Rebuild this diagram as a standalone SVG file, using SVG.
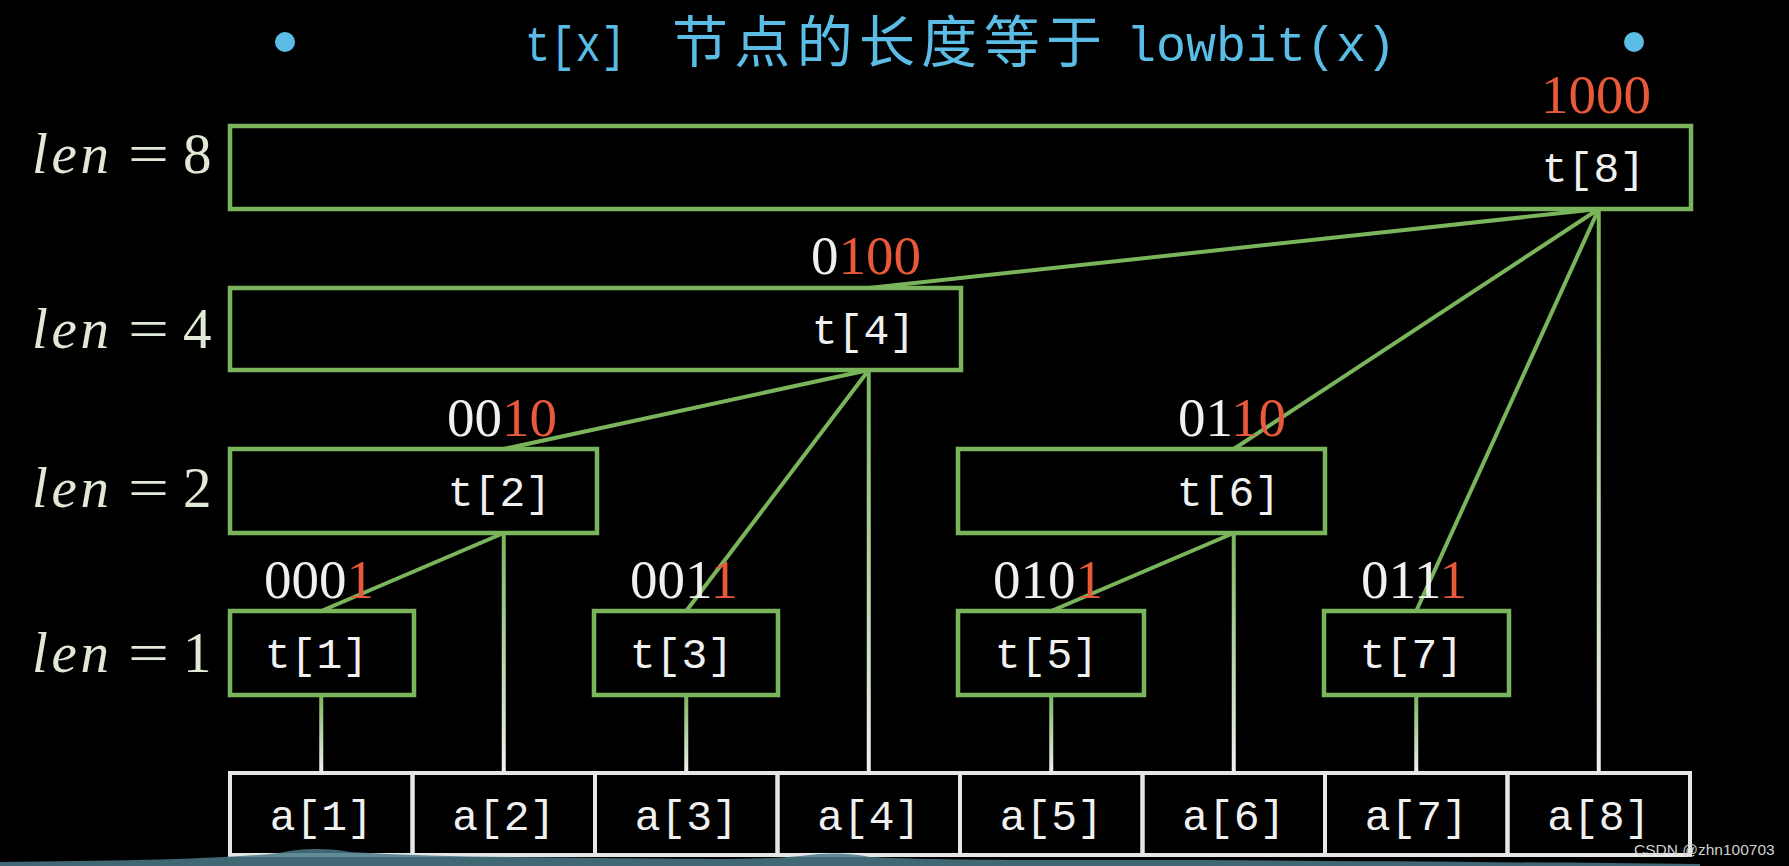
<svg xmlns="http://www.w3.org/2000/svg" width="1789" height="866" viewBox="0 0 1789 866">
<defs>
<linearGradient id="vgrad" x1="0" y1="0" x2="0" y2="1">
<stop offset="0" stop-color="#7ab55c"/>
<stop offset="1" stop-color="#f2f2f2"/>
</linearGradient>
<style>
.box{fill:none;stroke:#7ab55c;stroke-width:4.5}
.cell{fill:none;stroke:#e6e6e6;stroke-width:4}
.conn{stroke:#7ab55c;stroke-width:4;fill:none}
.mono{font-family:"Liberation Mono","DejaVu Sans Mono",monospace;font-size:43px;fill:#f0f0f0}
.bin{font-family:"Liberation Serif","DejaVu Serif",serif;font-size:55px;fill:#f0f0f0;text-anchor:end}
.red{fill:#e8583a}
.lab{font-family:"Liberation Serif","DejaVu Serif",serif;font-size:57px;fill:#dfe9d5}
.ttl{fill:#5bbde6}
</style>
</defs>
<rect x="0" y="0" width="1789" height="866" fill="#000"/>

<g id="title">
<circle cx="285" cy="42" r="10" fill="#5bbde6"/>
<circle cx="1634" cy="42" r="10" fill="#5bbde6"/>
<text x="525" y="61" class="ttl" font-family="Liberation Mono, DejaVu Sans Mono, monospace" font-size="50" textLength="101" lengthAdjust="spacingAndGlyphs">t[x]</text>
<text x="672" y="62" class="ttl" font-family="Noto Sans CJK SC, sans-serif" font-size="56" textLength="430" lengthAdjust="spacing">节点的长度等于</text>
<text x="1126" y="61" class="ttl" font-family="Liberation Mono, DejaVu Sans Mono, monospace" font-size="50" textLength="270" lengthAdjust="spacingAndGlyphs">lowbit(x)</text>
</g>

<g id="labels">
<text class="lab" x="32" y="173" font-style="italic" textLength="77" lengthAdjust="spacing">len</text><text class="lab" x="128" y="173" textLength="41" lengthAdjust="spacingAndGlyphs">=</text><text class="lab" x="183" y="173">8</text>
<text class="lab" x="32" y="348" font-style="italic" textLength="77" lengthAdjust="spacing">len</text><text class="lab" x="128" y="348" textLength="41" lengthAdjust="spacingAndGlyphs">=</text><text class="lab" x="183" y="348">4</text>
<text class="lab" x="32" y="507" font-style="italic" textLength="77" lengthAdjust="spacing">len</text><text class="lab" x="128" y="507" textLength="41" lengthAdjust="spacingAndGlyphs">=</text><text class="lab" x="183" y="507">2</text>
<text class="lab" x="32" y="672" font-style="italic" textLength="77" lengthAdjust="spacing">len</text><text class="lab" x="128" y="672" textLength="41" lengthAdjust="spacingAndGlyphs">=</text><text class="lab" x="183" y="672">1</text>
</g>

<g id="connectors">
<rect x="319.25" y="695" width="4" height="78" fill="url(#vgrad)"/>
<rect x="501.75" y="533" width="4" height="240" fill="url(#vgrad)"/>
<rect x="684.25" y="695" width="4" height="78" fill="url(#vgrad)"/>
<rect x="866.75" y="370" width="4" height="403" fill="url(#vgrad)"/>
<rect x="1049.25" y="695" width="4" height="78" fill="url(#vgrad)"/>
<rect x="1231.75" y="533" width="4" height="240" fill="url(#vgrad)"/>
<rect x="1414.25" y="695" width="4" height="78" fill="url(#vgrad)"/>
<rect x="1596.75" y="209" width="4" height="564" fill="url(#vgrad)"/>
<line class="conn" x1="321.25" y1="611" x2="503.75" y2="533"/>
<line class="conn" x1="503.75" y1="449" x2="868.75" y2="370"/>
<line class="conn" x1="686.25" y1="611" x2="868.75" y2="370"/>
<line class="conn" x1="868.75" y1="288" x2="1598.75" y2="209"/>
<line class="conn" x1="1051.25" y1="611" x2="1233.75" y2="533"/>
<line class="conn" x1="1233.75" y1="449" x2="1598.75" y2="209"/>
<line class="conn" x1="1416.25" y1="611" x2="1598.75" y2="209"/>
</g>

<g id="t8"><rect class="box" x="230" y="126" width="1461" height="83"/><text class="mono" x="1645" y="182" text-anchor="end">t[8]</text><text class="bin red" x="1651" y="113">1000</text></g>
<g id="t4"><rect class="box" x="230" y="288" width="731" height="82"/><text class="mono" x="915" y="344" text-anchor="end">t[4]</text><text class="bin" x="921" y="274">0<tspan class="red">100</tspan></text></g>
<g id="t2"><rect class="box" x="230" y="449" width="367" height="84"/><text class="mono" x="551" y="506" text-anchor="end">t[2]</text><text class="bin" x="557" y="436">00<tspan class="red">10</tspan></text></g>
<g id="t6"><rect class="box" x="958" y="449" width="367" height="84"/><text class="mono" x="1280" y="506" text-anchor="end">t[6]</text><text class="bin" x="1286" y="436">01<tspan class="red">10</tspan></text></g>
<g id="t1"><rect class="box" x="230" y="611" width="184" height="84"/><text class="mono" x="368" y="668" text-anchor="end">t[1]</text><text class="bin" x="374" y="598">000<tspan class="red">1</tspan></text></g>
<g id="t3"><rect class="box" x="594" y="611" width="184" height="84"/><text class="mono" x="733" y="668" text-anchor="end">t[3]</text><text class="bin" x="738" y="598">001<tspan class="red">1</tspan></text></g>
<g id="t5"><rect class="box" x="958" y="611" width="186" height="84"/><text class="mono" x="1098" y="668" text-anchor="end">t[5]</text><text class="bin" x="1103" y="598">010<tspan class="red">1</tspan></text></g>
<g id="t7"><rect class="box" x="1324" y="611" width="185" height="84"/><text class="mono" x="1463" y="668" text-anchor="end">t[7]</text><text class="bin" x="1467" y="598">011<tspan class="red">1</tspan></text></g>

<g id="a-array">
<rect class="cell" x="230" y="773" width="182.5" height="82"/><text class="mono" x="321.25" y="830" text-anchor="middle">a[1]</text>
<rect class="cell" x="412.5" y="773" width="182.5" height="82"/><text class="mono" x="503.75" y="830" text-anchor="middle">a[2]</text>
<rect class="cell" x="595" y="773" width="182.5" height="82"/><text class="mono" x="686.25" y="830" text-anchor="middle">a[3]</text>
<rect class="cell" x="777.5" y="773" width="182.5" height="82"/><text class="mono" x="868.75" y="830" text-anchor="middle">a[4]</text>
<rect class="cell" x="960" y="773" width="182.5" height="82"/><text class="mono" x="1051.25" y="830" text-anchor="middle">a[5]</text>
<rect class="cell" x="1142.5" y="773" width="182.5" height="82"/><text class="mono" x="1233.75" y="830" text-anchor="middle">a[6]</text>
<rect class="cell" x="1325" y="773" width="182.5" height="82"/><text class="mono" x="1416.25" y="830" text-anchor="middle">a[7]</text>
<rect class="cell" x="1507.5" y="773" width="182.5" height="82"/><text class="mono" x="1598.75" y="830" text-anchor="middle">a[8]</text>
</g>

<path d="M0,866 L0,862 C120,861 220,859 280,853 C300,848 330,848 350,852 C430,857 520,857 600,858 C700,859 760,860 800,856 C830,852 850,853 870,857 C950,861 1100,860 1200,860 C1350,861 1500,862 1700,864 L1700,866 Z" fill="#4a7a88" opacity="0.85"/>
<text x="1634" y="855" font-family="Liberation Sans, Arial, sans-serif" font-size="15.5" fill="#d0d0d0">CSDN @zhn100703</text>
</svg>
